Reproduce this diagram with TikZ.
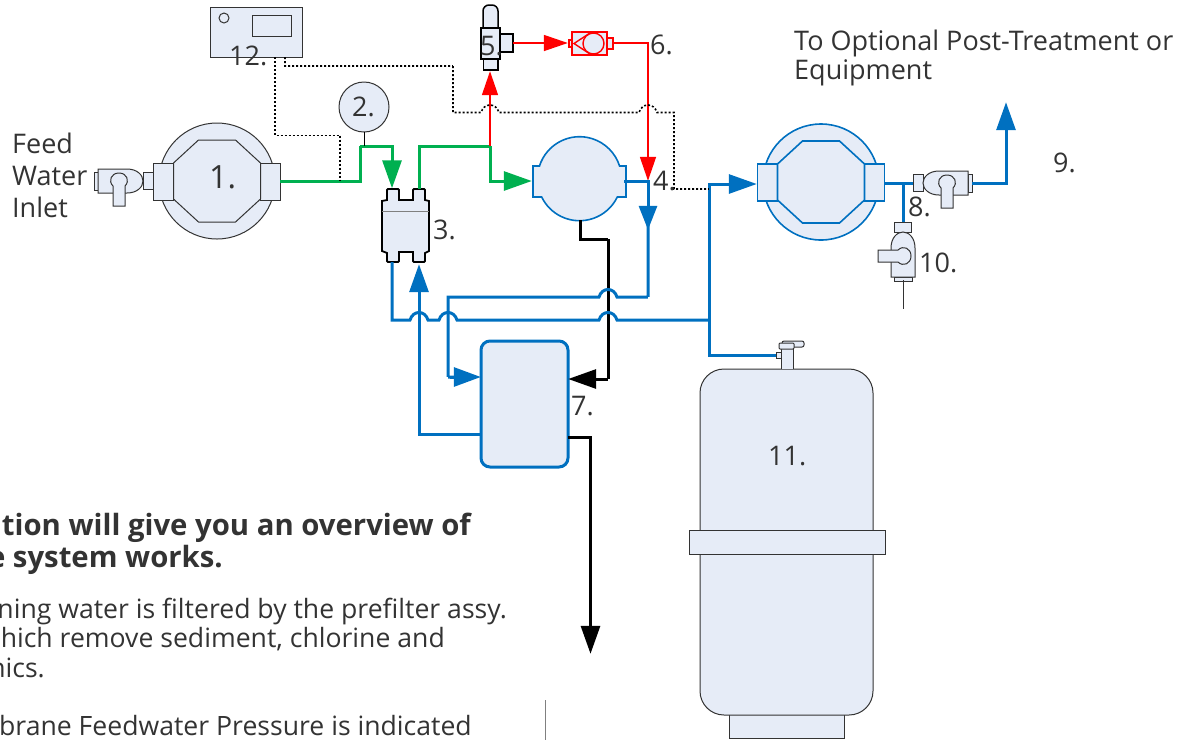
\documentclass[tikz,border=0pt]{standalone}
\usepackage{fontspec}
\setmainfont{Open Sans}
\usetikzlibrary{arrows.meta}
\definecolor{partFill}{HTML}{E6ECF7}
\definecolor{pipeBlue}{HTML}{0070C0}
\definecolor{pipeGreen}{HTML}{00B050}
\definecolor{inkGray}{HTML}{333333}
\tikzstyle{hub} = [inner sep=0,minimum size=0]
\tikzstyle{part} = [draw=inkGray,fill=partFill,line width=1pt,inner sep=0]
\tikzstyle{lbl} = [inner sep=0,anchor=base west,text=inkGray,font=\fontsize{27}{30}\selectfont]
\tikzstyle{para} = [inner sep=0,anchor=base east,text=inkGray,font=\fontsize{26.6}{30}\selectfont]
\tikzstyle{greenPipe} = [draw=pipeGreen,line width=3pt]
\tikzstyle{bluePipe} = [draw=pipeBlue,line width=3pt]
\tikzstyle{blackPipe} = [draw=black,line width=3pt]
\tikzstyle{redPipe} = [draw=red,line width=1.7pt]
\tikzstyle{wire} = [draw=black,line width=1.6pt,dash pattern=on 2pt off 2pt]
\tikzstyle{tipBig} = [-{Triangle[length=28pt,width=19pt]}]
\newcommand{\hop}[2]{-- (#1-9,#2) .. controls (#1-6,#2-10) and (#1+6,#2-10) .. (#1+9,#2)}
\newcommand{\hopback}[2]{-- (#1+9,#2) .. controls (#1+6,#2-10) and (#1-6,#2-10) .. (#1-9,#2)}
\tikzset{
  filterBody/.pic={
    \draw[fill=partFill] (0,0) circle[radius=58pt];
    \draw[fill=partFill] (-63.5,-18) rectangle (-43.5,19);
    \draw[fill=partFill] (43.5,-18) rectangle (63.5,19);
    \draw[fill=partFill] (-18.5,-41) -- (18.5,-41) -- (43.5,-18) -- (43.5,18) -- (18.5,41) -- (-18.5,41) -- (-43.5,18) -- (-43.5,-18) -- cycle;
  },
  valve/.pic={
    \draw[part] (24,-8.5) rectangle (34,8.5);
    \draw[part] (-25,-9) rectangle (-21,9);
    \draw[part] (-21,-12) -- (8,-12) .. controls (18,-12) and (24,-6) .. (24,0) .. controls (24,6) and (18,12) .. (8,12) -- (-21,12) -- cycle;
    \draw[part] (-6,25) -- (-6,5) .. controls (-11,0) and (-8,-8) .. (0,-8) .. controls (8,-8) and (11,0) .. (6,5) -- (6,25) -- cycle;
  }
}
\begin{document}
\begin{tikzpicture}[x=1pt,y=-1pt]
  \useasboundingbox (0,0) rectangle (1183,740);
  % parts
  \pic[color=inkGray,line width=1pt] (preA) at (217,181) {filterBody};
  \pic[color=pipeBlue,line width=1.6pt] (postB) at (821,182) {filterBody};
  \pic (valveIn) at (119,181) {valve};
  \pic[xscale=-1] (valveOut) at (947,183) {valve};
  \pic[rotate=90,yscale=-1] (valveTap) at (903,256) {valve};
  \node[part,circle,minimum size=50pt] (gauge) at (364,107) {};
  \node[part,rectangle,minimum width=92pt,minimum height=50pt] (ctl) at (256,32) {};
  \node[draw=inkGray,circle,line width=1pt,minimum size=10pt,inner sep=0] (ctlLed) at (224,18) {};
  \node[draw=inkGray,rectangle,line width=1pt,minimum width=39pt,minimum height=21pt,inner sep=0] (ctlShow) at (271.5,25.5) {};
  % part 3, switch
  \draw[fill=partFill,draw=black,line width=1.8pt] (388,189) -- (398,189) -- (399,190) -- (399,200) -- (413,200) -- (413,190) -- (414,189) -- (424,189) -- (425,190) -- (425,200) -- (429,201) -- (429,251) -- (425,253) -- (425,261) -- (424,262) -- (414,262) -- (413,261) -- (413,252) -- (399,252) -- (399,261) -- (398,262) -- (388,262) -- (387,261) -- (387,253) -- (382,251) -- (382,201) -- (387,200) -- (387,190) -- cycle;
  \draw[draw=gray,line width=1pt] (382,211) -- (429,211);
  % part 4, round housing with tabs
  \draw[fill=partFill,draw=pipeBlue,line width=1.6pt] (533,166) -- (539.5,166) arc[start angle=162.4,end angle=17.6,radius=42pt] -- (626,166) -- (626,197) -- (617.3,197) arc[start angle=-25.8,end angle=-154.2,radius=42pt] -- (533,197) -- cycle;
  % part 5
  \draw[part,draw=black,line width=1.5pt,rounded corners=6pt] (483,30) -- (483,5) -- (498,5) -- (498,30);
  \draw[part,draw=black,line width=1.5pt] (500,34) rectangle (513,52);
  \draw[part,draw=black,line width=1.5pt] (483.5,59) rectangle (498,70);
  \draw[part,draw=black,line width=1.5pt] (481,28) rectangle (500,59);
  % part 6
  \node[draw=red,fill=partFill,rectangle,line width=1.4pt,minimum width=35pt,minimum height=23pt,inner sep=0] (check) at (589.5,43.5) {};
  \node[draw=red,fill=partFill,rectangle,line width=1.4pt,minimum width=3pt,minimum height=7pt,inner sep=0] (checkIn) at (570.5,43.5) {};
  \node[draw=red,fill=partFill,rectangle,line width=1.4pt,minimum width=6pt,minimum height=11pt,inner sep=0] (checkOut) at (610,43.5) {};
  \node[draw=red,circle,line width=1.4pt,minimum size=21pt,inner sep=0] (ball) at (593.5,43.5) {};
  \draw[draw=red,line width=1.4pt] (590,33) -- (574,43.5) -- (590,54);
  % part 7
  \node[draw=pipeBlue,fill=partFill,rectangle,rounded corners=9pt,line width=3pt,minimum width=87pt,minimum height=126pt,inner sep=0] (tankB) at (524.5,404) {};
  % part 11
  \node[part,rectangle,minimum width=115pt,minimum height=30pt] (foot) at (786.5,723) {};
  \node[part,rectangle,rounded corners=24pt,minimum width=173pt,minimum height=346pt] (tank) at (786.5,542) {};
  \node[part,rectangle,minimum width=196pt,minimum height=24pt] (band) at (787,542) {};
  \draw[part,rounded corners=2pt] (782,347) -- (782,341) -- (804,341) -- (804,347) -- cycle;
  \draw[part] (781,369) -- (781,348) -- (793,348) -- (793,369);
  \draw[part,rounded corners=1pt] (779,343) rectangle (794,349);
  \draw[part] (776,352) rectangle (781,358);

  % invisible nodes
  \node[hub] (outA) at (280,181) {};
  \node[hub] (g2) at (360,146) {};
  \node[hub,below of=gauge,node distance=25pt] (gaugeFoot) {};
  \node[hub,below of=gaugeFoot,node distance=14pt] (gaugeTee) {};
  \node[hub] (in3) at (392,188.5) {};
  \node[hub] (out3) at (419,189) {};
  \node[hub] (g3) at (490,146) {};
  \node[hub] (in4) at (532,181) {};
  \node[hub] (in5) at (490,71) {};
  \node[hub] (out5) at (513,43) {};
  \node[hub] (in6) at (568,43) {};
  \node[hub] (out6) at (613,43) {};
  \node[hub] (r1) at (648,43) {};
  \node[hub,below of=r1,node distance=138pt] (r2) {};
  \node[hub] (out4) at (624,181) {};
  \node[hub,below of=r2,node distance=49pt] (b1) {};
  \node[hub] (b2) at (648,297) {};
  \node[hub] (b3) at (448,377) {};
  \node[hub] (in7) at (481,377) {};
  \node[hub] (b4) at (392,262) {};
  \node[hub] (b5) at (709,320) {};
  \node[hub] (inB) at (757,184) {};
  \node[hub] (inT) at (776,355) {};
  \node[hub] (back7) at (481,434) {};
  \node[hub] (b8) at (419,264) {};
  \node[hub] (outB) at (885,183) {};
  \node[hub] (inV) at (913,183) {};
  \node[hub] (tee) at (903,183) {};
  \node[hub] (inTap) at (903,222) {};
  \node[hub] (outV) at (972,183) {};
  \node[hub] (up) at (1006,102) {};
  \node[hub] (k1) at (580,220) {};
  \node[hub] (k2) at (608,239) {};
  \node[hub] (k3) at (568,379) {};
  \node[hub] (k4) at (608,379) {};
  \node[hub] (k5) at (568,437) {};
  \node[hub] (k6) at (590.5,654) {};
  \node[hub] (ctlA) at (275,57) {};
  \node[hub] (ctlB) at (285,57) {};
  \node[hub] (w1) at (340,135.5) {};
  \node[hub] (w2) at (340,181) {};
  \node[hub] (w3) at (453,66) {};
  \node[hub] (w4) at (709,189) {};
  \node[hub] (tapTop) at (903,280) {};
  \node[hub] (tapEnd) at (903,309) {};

  % black pipes first, blue ones hop over them
  \draw[blackPipe] (k1) |- (k2) -- (k4);
  \draw[blackPipe,tipBig] (k4) -- (k3);
  \draw[blackPipe,tipBig] (k5) -| (k6);
  % green
  \draw[greenPipe,tipBig] (outA) -| (g2) -| (in3);
  \draw[greenPipe] (out3) |- (g3);
  \draw[greenPipe,tipBig] (g3) |- (in4);
  \draw[line width=1pt,draw=black] (gaugeFoot) -- (gaugeTee);
  % red
  \draw[redPipe,-{Triangle[length=24pt,width=16pt]}] (g3) -- (in5);
  \draw[redPipe,-{Triangle[length=24pt,width=16pt]}] (out5) -- (in6);
  \draw[redPipe,-{Triangle[length=24pt,width=16pt]}] (out6) -| (r2);
  % blue
  \draw[bluePipe,-{Triangle[length=24pt,width=18pt]}] (out4) -| (b1);
  \draw[bluePipe] (b1) ++(0,-8) -- (b2) \hopback{608}{297} -- (448,297) -- (b3) -- (456,377);
  \draw[bluePipe,-{Triangle[length=27pt,width=19pt]}] (450,377) -- (in7);
  \draw[bluePipe] (b4) -- (392,320) \hop{419}{320} \hop{448}{320} \hop{608}{320} -- (b5);
  \draw[bluePipe,tipBig] (b5) |- (inB);
  \draw[bluePipe] (b5) |- (inT);
  \draw[bluePipe,tipBig] (back7) -| (b8);
  \draw[bluePipe] (outB) -- (inV);
  \draw[bluePipe] (tee) -- (inTap);
  \draw[bluePipe,tipBig] (outV) -| (up);
  % control wires
  \draw[wire] (ctlA) |- (w1) -- (w2);
  \draw[wire] (ctlB) |- (w3) -- (453,112.5) \hop{490}{112.5} \hop{648}{112.5} -- (674,112.5) |- (w4);
  \draw[line width=1pt,draw=inkGray] (tapTop) -- (tapEnd);

  % labels
  \node[lbl] (feed1) at (12,153) {Feed};
  \node[lbl] (feed2) at (12,185) {Water};
  \node[lbl] (feed3) at (12,217) {Inlet};
  \node[lbl,font=\fontsize{32}{36}\selectfont] (n1) at (209,188.5) {1.};
  \node[lbl] (n2) at (352,116) {2.};
  \node[lbl] (n3) at (433,239) {3.};
  \node[lbl] (n4) at (653,190) {4.};
  \node[lbl] (n5) at (480,55) {5.};
  \node[lbl] (n6) at (650,54) {6.};
  \node[lbl] (n7) at (571,415) {7.};
  \node[lbl] (n8) at (908,216) {8.};
  \node[lbl] (n9) at (1053,172) {9.};
  \node[lbl] (n10) at (919,272) {10.};
  \node[lbl] (n11) at (768,465) {11.};
  \node[lbl] (n12) at (229,65) {12.};
  \node[lbl] (post1) at (794,50) {To Optional Post-Treatment or};
  \node[lbl] (post2) at (794,79) {Equipment};
  \node[para,font=\fontsize{29.3}{32}\selectfont\bfseries] (head1) at (471,535.5) {tion will give you an overview of};
  \node[para,font=\fontsize{29.3}{32}\selectfont\bfseries] (head2) at (223,567.5) {e system works.};
  \node[para] (body1) at (507,618) {ning water is filtered by the prefilter assy.};
  \node[para] (body2) at (445,647.5) {hich remove sediment, chlorine and};
  \node[para] (body3) at (45,677) {nics.};
  \node[para] (body4) at (472,735) {brane Feedwater Pressure is indicated};
  \node[hub] (rule1) at (545,700) {};
  \node[hub] (rule2) at (545,740) {};
  \draw[draw=gray,line width=1pt] (rule1) -- (rule2);
\end{tikzpicture}
\end{document}
